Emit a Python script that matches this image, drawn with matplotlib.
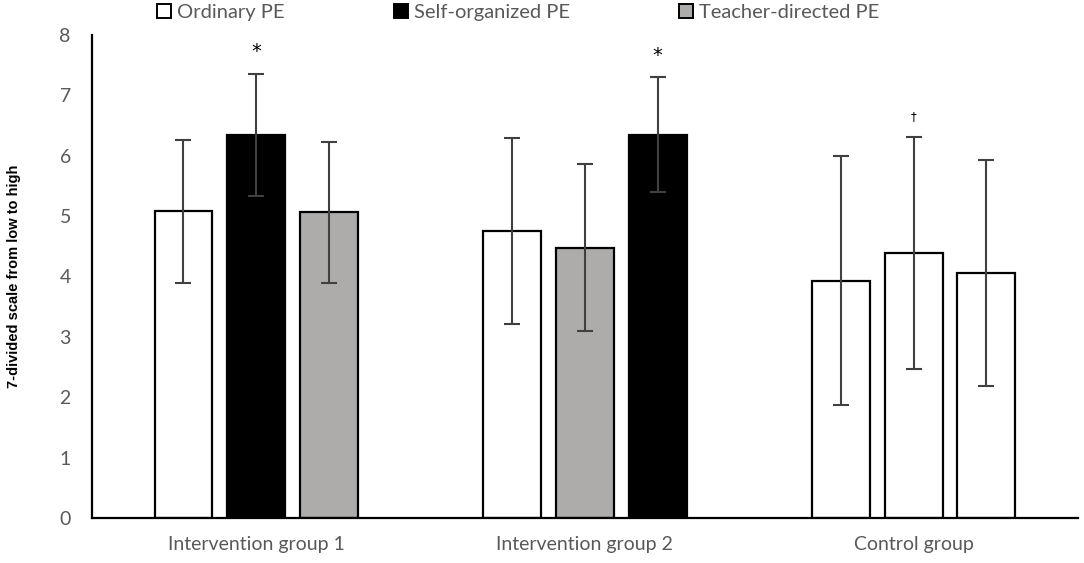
import matplotlib.pyplot as plt
import numpy as np
from matplotlib.patches import Patch

# groups and series
groups = ["Intervention group 1", "Intervention group 2", "Control group"]

# bar heights per slot (left, middle, right) in each group
left_vals = [5.08, 4.75, 3.93]
mid_vals = [6.35, 4.48, 4.39]
right_vals = [5.06, 6.35, 4.06]

# symmetric error bar half-lengths
left_err = [1.18, 1.54, 2.06]
mid_err = [1.01, 1.39, 1.92]
right_err = [1.17, 0.95, 1.87]

# fill colours per slot, per group
left_cols = ["white", "white", "white"]
mid_cols = ["black", "#aeabab", "white"]
right_cols = ["#aeabab", "black", "white"]

legend_labels = ["Ordinary PE", "Self-organized PE", "Teacher-directed PE"]
legend_cols = ["white", "black", "#aeabab"]

# significance marks: (group, slot, symbol)
marks = [(0, 1, "*"), (1, 2, "*"), (2, 1, "\u2020")]

fig = plt.figure(figsize=(10.84, 5.63), dpi=100)
ax = fig.add_axes([0.0846, 0.0799, 0.910, 0.858])

x = np.arange(len(groups))
w = 0.176
off = 0.221

vals = [left_vals, mid_vals, right_vals]
errs = [left_err, mid_err, right_err]
cols = [left_cols, mid_cols, right_cols]

for k in range(3):
    pos = x + (k - 1) * off
    ax.bar(pos, vals[k], width=w, color=cols[k], edgecolor="black",
           linewidth=1.6, zorder=2)
    ax.errorbar(pos, vals[k], yerr=errs[k], fmt="none", ecolor="#404040",
                elinewidth=1.5, capsize=5.5, capthick=1.5, zorder=3)

for g, k, sym in marks:
    top = vals[k][g] + errs[k][g]
    if sym == "*":
        ax.text(x[g] + (k - 1) * off, top + 0.36, sym, ha="center", va="center",
                fontsize=14, color="black", family="DejaVu Sans")
    else:
        ax.text(x[g] + (k - 1) * off, top + 0.34, sym, ha="center", va="center",
                fontsize=8.5, color="black", family="DejaVu Sans")

ax.set_xlim(-0.5, 2.5)
ax.set_ylim(0, 8)
ax.set_yticks(range(0, 9))
ax.set_xticks(x)
ax.set_xticklabels(groups)
ax.tick_params(axis="both", length=0, labelsize=14, colors="#595959")
ax.tick_params(axis="y", pad=15)
ax.tick_params(axis="x", pad=13)
for lab in ax.get_xticklabels() + ax.get_yticklabels():
    lab.set_family("Lato")

ax.spines["top"].set_visible(False)
ax.spines["right"].set_visible(False)
ax.spines["left"].set_linewidth(1.6)
ax.spines["bottom"].set_linewidth(1.6)

ax.set_ylabel("7-divided scale from low to high", fontsize=10.5,
              fontweight="bold", family="Liberation Sans")
ax.yaxis.set_label_coords(-0.072, 0.5)

handles = [Patch(facecolor=c, edgecolor="black", linewidth=1.4) for c in legend_cols]
leg = fig.legend(handles, legend_labels, loc="center", bbox_to_anchor=(0.478, 0.978),
                 ncol=3, frameon=False, handlelength=0.7, handleheight=0.7,
                 handletextpad=0.3, columnspacing=5.4,
                 prop={"family": "Lato", "size": 14.5})
for t in leg.get_texts():
    t.set_color("#595959")

fig.savefig("out.png", dpi=100)
